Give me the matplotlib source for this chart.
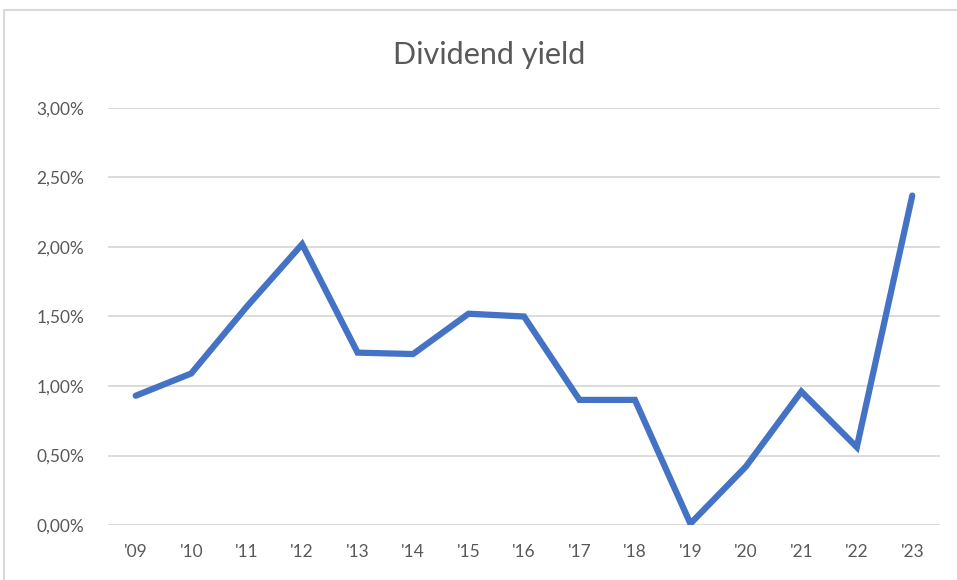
import matplotlib.pyplot as plt
from matplotlib.patches import Rectangle
from matplotlib.ticker import FuncFormatter

years = ["'09", "'10", "'11", "'12", "'13", "'14", "'15", "'16",
         "'17", "'18", "'19", "'20", "'21", "'22", "'23"]
yield_pct = [0.0093, 0.0109, 0.0157, 0.0202, 0.0124, 0.0123, 0.0152, 0.0150,
             0.0090, 0.0090, 0.0001, 0.0042, 0.0096, 0.0056, 0.0237]

plt.rcParams['font.family'] = ['Lato', 'DejaVu Sans']

fig = plt.figure(figsize=(9.57, 5.8), dpi=100)
fig.patches.append(Rectangle((4 / 957, -0.05), 1.1, 1 - 10 / 580 + 0.05,
                             transform=fig.transFigure, fill=False,
                             edgecolor='#d9d9d9', linewidth=1.5))

ax = fig.add_axes([108 / 957, 1 - 525 / 580, (940 - 108) / 957, (525 - 108) / 580])
x = range(len(years))
ax.plot(x, yield_pct, color='#4472c4', linewidth=4.5, solid_joinstyle='miter',
        solid_capstyle='round', zorder=3)

ax.set_xlim(-0.5, len(years) - 0.5)
ax.set_ylim(0, 0.03)
ax.set_yticks([i * 0.005 for i in range(7)])
ax.yaxis.set_major_formatter(FuncFormatter(lambda v, p: f"{v * 100:.2f}%".replace('.', ',')))
ax.set_xticks(list(x))
ax.set_xticklabels(years)

ax.grid(axis='y', color='#d9d9d9', linewidth=1.3)
ax.set_axisbelow(True)
for s in ax.spines.values():
    s.set_visible(False)
ax.tick_params(length=0, labelsize=12.5, labelcolor='#595959')
ax.tick_params(axis='x', pad=14)
ax.tick_params(axis='y', pad=17)

fig.text(489 / 957, 1 - 55 / 580, 'Dividend yield', ha='center',
         va='center', fontsize=22, color='#595959')

fig.savefig('out.png', dpi=100)
